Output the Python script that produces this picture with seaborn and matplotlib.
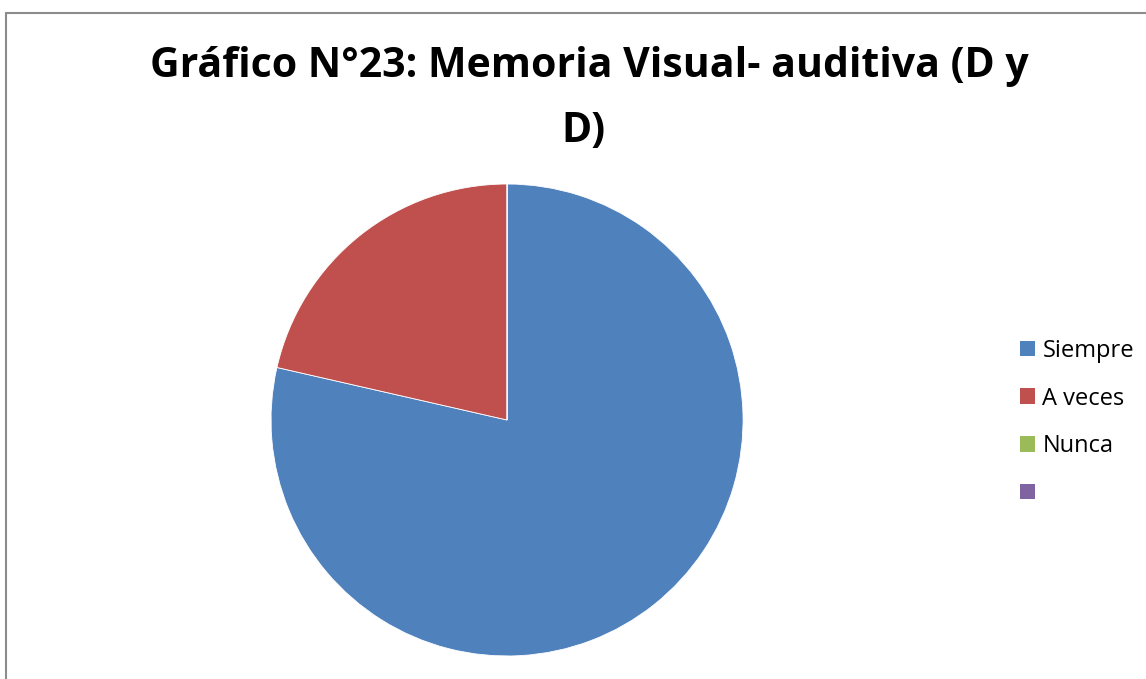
import matplotlib
matplotlib.use("Agg")
import matplotlib.pyplot as plt
import matplotlib.patches as mpatches
import seaborn as sns

# Data
categories = ["Siempre", "A veces", "Nunca", ""]
values = [11, 3, 0, 0]
colors = ["#4F81BD", "#C0504D", "#9BBB59", "#8064A2"]

sns.set_theme(style="white")
plt.rcParams['font.family'] = ['Open Sans', 'DejaVu Sans']
plt.rcParams['text.color'] = 'black'

fig = plt.figure(figsize=(11.46, 6.79), dpi=100)
ax = fig.add_axes([0.2365, 0.0339, 0.4119, 0.6951])

ax.pie(values, colors=colors, startangle=90, counterclock=False, radius=1,
       wedgeprops=dict(edgecolor='white', linewidth=0.6))
ax.set_xlim(-1, 1)
ax.set_ylim(-1, 1)
ax.set_aspect('auto')
ax.axis('off')

fig.text(0.514, 0.902, "Gráfico N°23: Memoria Visual- auditiva (D y",
         ha='center', va='center', fontsize=29.5, fontweight='bold')
fig.text(0.509, 0.806, "D)", ha='center', va='center', fontsize=29.5, fontweight='bold')

handles = [mpatches.Patch(facecolor=c, edgecolor='none', label=l)
           for c, l in zip(colors, categories)]
fig.legend(handles=handles, loc='center left', bbox_to_anchor=(0.882, 0.378),
           frameon=False, fontsize=17, handlelength=0.64, handleheight=0.64,
           handletextpad=0.3, labelspacing=1.0, borderaxespad=0)

# outer chart border
fig.patches.append(mpatches.Rectangle((6 / 1146, -0.1), 2, (679 - 13) / 679 + 0.1,
                                      transform=fig.transFigure, fill=False,
                                      edgecolor='#8c8c8c', linewidth=1.5))

fig.savefig("out.png", dpi=100)
